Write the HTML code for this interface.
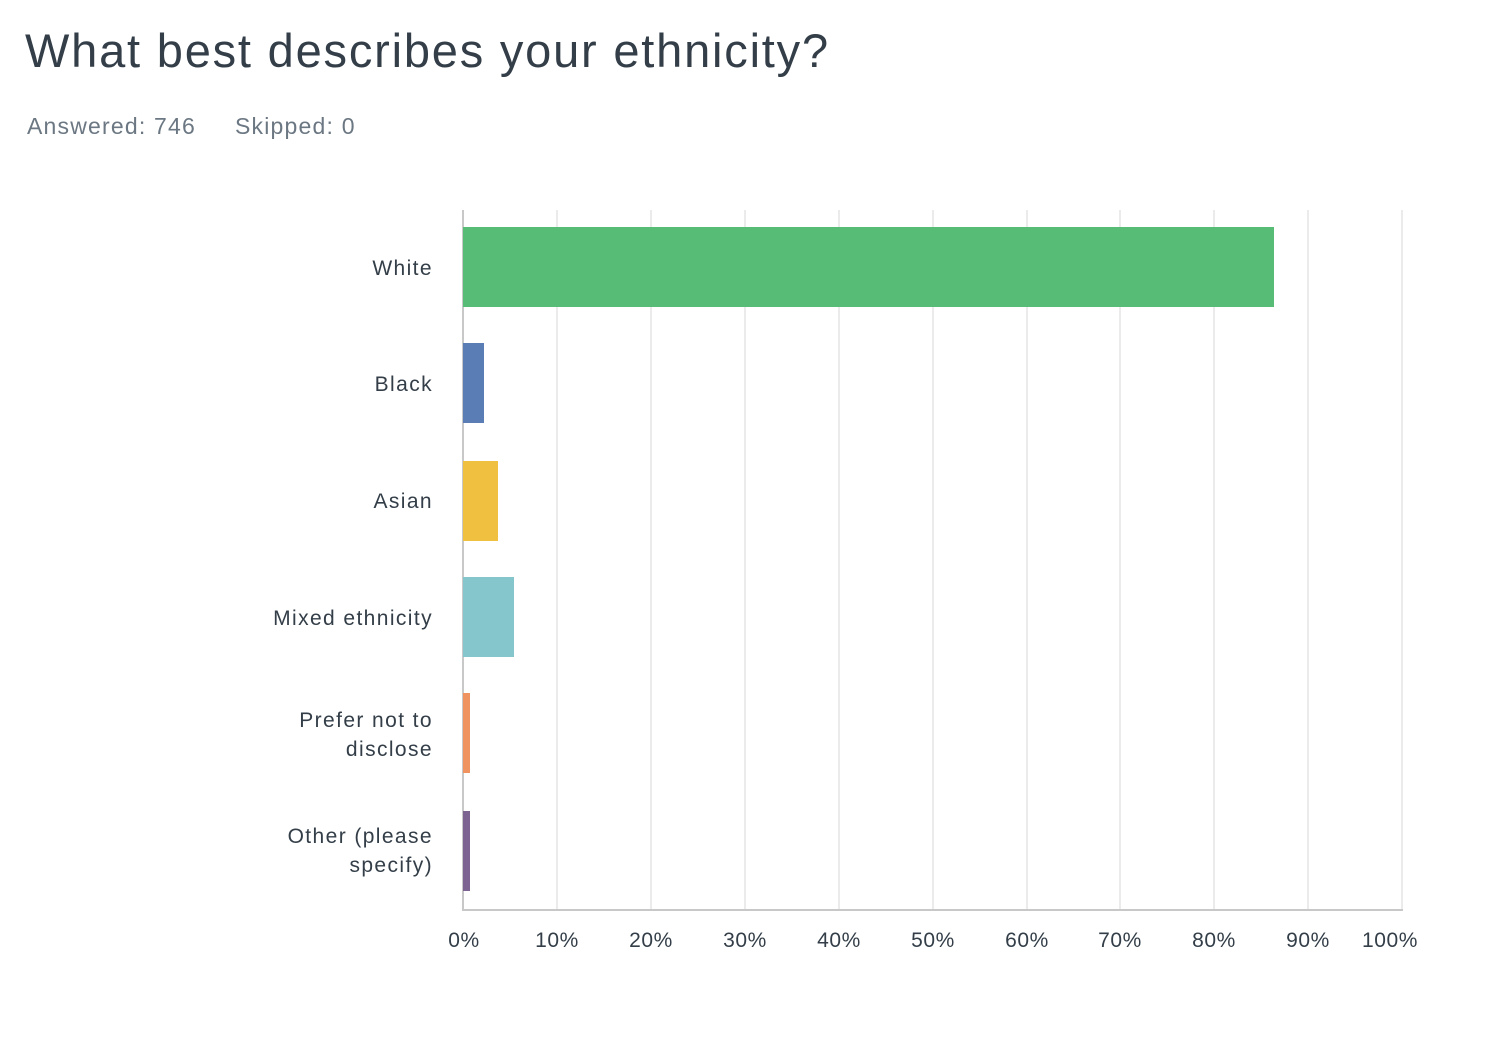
<!DOCTYPE html>
<html><head><meta charset="utf-8"><style>
body{margin:0;background:#fff;width:1508px;height:1042px;position:relative;font-family:"Liberation Sans",sans-serif;overflow:hidden}
.t{position:absolute;white-space:nowrap}
.lab{position:absolute;right:1075px;text-align:right;font-size:21px;color:#333e48;line-height:29px;letter-spacing:1.4px}
.tick{position:absolute;top:929px;font-size:21px;color:#333e48;transform:translateX(-50%);letter-spacing:0.6px}
.g{position:absolute;top:210px;height:700px;width:2px;background:#ebebeb}
.b{position:absolute;left:463px;height:80px}
</style></head><body>
<div class="t" style="left:25px;top:23px;font-size:47px;color:#333e48;letter-spacing:1.8px">What best describes your ethnicity?</div>
<div class="t" style="left:27px;top:113px;font-size:23px;color:#6b7782;letter-spacing:1.2px">Answered: 746</div>
<div class="t" style="left:235px;top:113px;font-size:23px;color:#6b7782;letter-spacing:1.2px">Skipped: 0</div>

<div class="g" style="left:556px"></div><div class="g" style="left:650px"></div><div class="g" style="left:744px"></div>
<div class="g" style="left:838px"></div><div class="g" style="left:932px"></div><div class="g" style="left:1026px"></div>
<div class="g" style="left:1119px"></div><div class="g" style="left:1213px"></div><div class="g" style="left:1307px"></div>
<div class="g" style="left:1401px"></div>
<div style="position:absolute;left:462px;top:210px;width:2px;height:701px;background:#c8c8c8"></div>
<div style="position:absolute;left:462px;top:909px;width:941px;height:2px;background:#c8c8c8"></div>

<div class="b" style="top:227px;width:811px;background:#57bd76"></div>
<div class="b" style="top:343px;width:21px;background:#5b7db5"></div>
<div class="b" style="top:461px;width:35px;background:#f0c040"></div>
<div class="b" style="top:577px;width:51px;background:#84c6cb"></div>
<div class="b" style="top:693px;width:7px;background:#ef9461"></div>
<div class="b" style="top:811px;width:7px;background:#7d6391"></div>

<div class="lab" style="top:254px">White</div>
<div class="lab" style="top:370px">Black</div>
<div class="lab" style="top:487px">Asian</div>
<div class="lab" style="top:604px">Mixed ethnicity</div>
<div class="lab" style="top:706px">Prefer not to<br>disclose</div>
<div class="lab" style="top:822px">Other (please<br>specify)</div>

<div class="tick" style="left:464px">0%</div><div class="tick" style="left:557px">10%</div>
<div class="tick" style="left:651px">20%</div><div class="tick" style="left:745px">30%</div>
<div class="tick" style="left:839px">40%</div><div class="tick" style="left:933px">50%</div>
<div class="tick" style="left:1027px">60%</div><div class="tick" style="left:1120px">70%</div>
<div class="tick" style="left:1214px">80%</div><div class="tick" style="left:1308px">90%</div>
<div class="tick" style="left:1390px">100%</div>
</body></html>
